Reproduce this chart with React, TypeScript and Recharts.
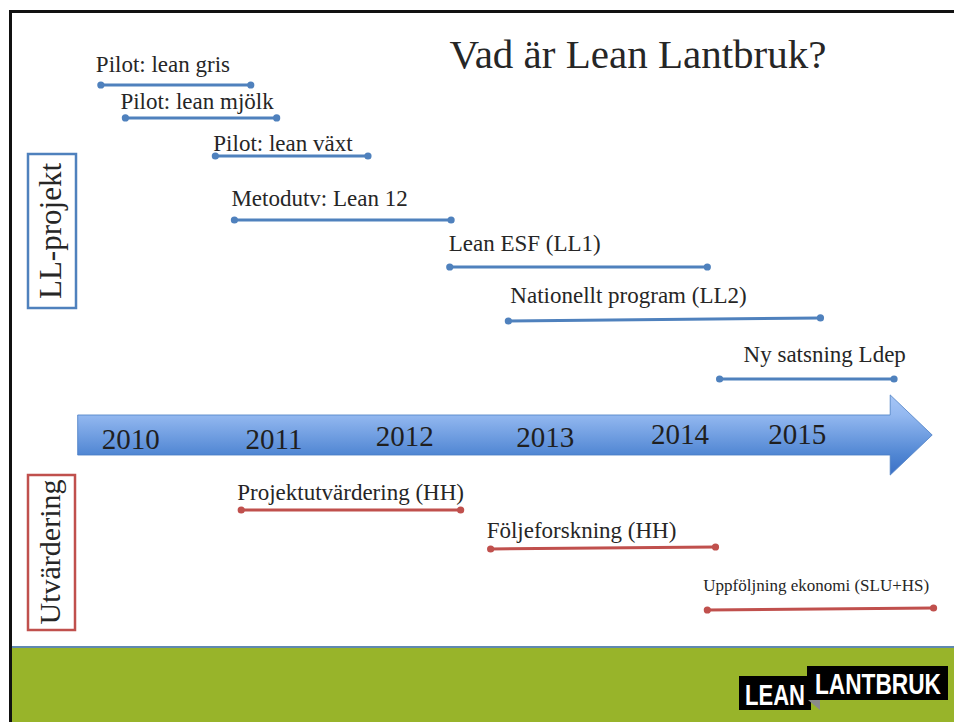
import React from 'react';
import { ComposedChart, Line, Scatter, XAxis, YAxis, ReferenceArea } from 'recharts';

// time runs in years along x, lanes are on a 0-100 scale from the top of the slide
const projectNames = ['Pilot: lean gris', 'Pilot: lean mjölk', 'Pilot: lean växt', 'Metodutv: Lean 12', 'Lean ESF (LL1)', 'Nationellt program (LL2)', 'Ny satsning Ldep'];
const projectStart = [2009.94, 2010.12, 2010.78, 2010.92, 2012.5, 2012.93, 2014.48];
const projectEnd = [2011.04, 2011.23, 2011.9, 2012.51, 2014.39, 2015.22, 2015.76];
const projectLaneStart = [11.77, 16.34, 21.61, 30.47, 36.98, 44.46, 52.49];
const projectLaneEnd = [11.77, 16.34, 21.61, 30.47, 36.98, 44.04, 52.49];

const evalNames = ['Projektutvärdering (HH)', 'Följeforskning (HH)', 'Uppföljning ekonomi (SLU+HS)'];
const evalStart = [2010.97, 2012.8, 2014.39];
const evalEnd = [2012.58, 2014.45, 2016.05];
const evalLaneStart = [70.64, 76.04, 84.49];
const evalLaneEnd = [70.64, 75.76, 84.21];

const years = ['2010', '2011', '2012', '2013', '2014', '2015'];
const yearAt = [2010.16, 2011.21, 2012.17, 2013.2, 2014.19, 2015.05];
const yearLane = [62.2, 62.2, 61.8, 61.9, 61.5, 61.5];

const arrowFrom = 2009.77;
const arrowTo = 2016.04;
const arrowTop = 54.7;
const arrowBottom = 65.8;

// label placement relative to the first dot, in px
const projectLabelOffset = [[-5, -13], [-5, -9], [-2, -5], [-3, -14], [-1, -16], [2, -18], [24, -17]];
const evalLabelOffset = [[-4, -10], [-4, -11], [-4, -19]];
const evalLabelSize = [23, 23, 17];

const BLUE = '#4f81bd';
const RED = '#c0504d';
const INK = '#262626';
const SERIF = "'Liberation Serif', 'Times New Roman', serif";
const LOGO_FONT = "'Liberation Sans Narrow', 'Liberation Sans', sans-serif";

const W = 954;
const H = 722;

type Seg = { name: string; color: string; data: { x: number; y: number }[]; off: number[]; size: number };

const segments: Seg[] = [
  ...projectNames.map((name, i) => ({
    name,
    color: BLUE,
    data: [{ x: projectStart[i], y: projectLaneStart[i] }, { x: projectEnd[i], y: projectLaneEnd[i] }],
    off: projectLabelOffset[i],
    size: 23,
  })),
  ...evalNames.map((name, i) => ({
    name,
    color: RED,
    data: [{ x: evalStart[i], y: evalLaneStart[i] }, { x: evalEnd[i], y: evalLaneEnd[i] }],
    off: evalLabelOffset[i],
    size: evalLabelSize[i],
  })),
];

const yearData = years.map((label, i) => ({ x: yearAt[i], y: yearLane[i], label }));

const makeDot = (seg: Seg) => (props: any) => {
  const { cx, cy, index } = props;
  return (
    <g key={`${seg.name}-${index}`}>
      <circle cx={cx} cy={cy} r={3.6} fill={seg.color} />
      {index === 0 && (
        <text x={cx + seg.off[0]} y={cy + seg.off[1]} fontSize={seg.size} fontFamily={SERIF} fill={INK}>
          {seg.name}
        </text>
      )}
    </g>
  );
};

const ArrowShape = (props: any) => {
  const { x, y, width, height } = props;
  const head = 42;
  const b1 = y + height * 0.25;
  const b2 = y + height * 0.75;
  const hx = x + width - head;
  const pts = [
    [x, b1], [hx, b1], [hx, y], [x + width, y + height / 2], [hx, y + height], [hx, b2], [x, b2],
  ].map(p => p.join(',')).join(' ');
  return <polygon points={pts} fill="url(#arrowGrad)" stroke="#4a7dc4" strokeWidth={0.8} />;
};

const YearLabel = (props: any) => {
  const { cx, cy, payload } = props;
  return (
    <text x={cx} y={cy} textAnchor="middle" fontSize={29} fontFamily={SERIF} fill="#1f1f1f">
      {payload.label}
    </text>
  );
};

const Slide = () => (
  <svg width={W} height={H} style={{ position: 'absolute', left: 0, top: 0 }}>
    <rect x={12} y={646} width={W - 12} height={H - 646} fill="#98b42a" />
    <line x1={12} y1={647} x2={W} y2={647} stroke="#5f88b0" strokeWidth={2} />
    <line x1={9} y1={11.5} x2={W} y2={11.5} stroke="#111" strokeWidth={3} />
    <line x1={10.5} y1={10} x2={10.5} y2={H} stroke="#111" strokeWidth={3} />
    <text x={638} y={68} textAnchor="middle" fontSize={41} fontFamily={SERIF} fill={INK}>
      Vad är Lean Lantbruk?
    </text>
    <rect x={28} y={154} width={48} height={154} fill="none" stroke={BLUE} strokeWidth={2.5} />
    <text x={61} y={231} textAnchor="middle" fontSize={31} fontFamily={SERIF} fill={INK} transform="rotate(-90 61 231)">
      LL-projekt
    </text>
    <rect x={28} y={475} width={47} height={155} fill="none" stroke={RED} strokeWidth={2.5} />
    <text x={60} y={552} textAnchor="middle" fontSize={30} fontFamily={SERIF} fill={INK} transform="rotate(-90 60 552)">
      Utvärdering
    </text>
    <rect x={739} y={676} width={72} height={34} fill="#000" />
    <polygon points="808,700 820,700 820,710" fill="#8a8a8a" />
    <rect x={807} y={666} width={141} height={34} fill="#000" />
    <text x={745} y={705} fontSize={30} fontWeight="bold" fontFamily={LOGO_FONT} fill="#fff" textLength={60} lengthAdjust="spacingAndGlyphs">
      LEAN
    </text>
    <text x={815} y={694} fontSize={30} fontWeight="bold" fontFamily={LOGO_FONT} fill="#fff" textLength={126} lengthAdjust="spacingAndGlyphs">
      LANTBRUK
    </text>
  </svg>
);

export default function App() {
  return (
    <div style={{ position: 'fixed', left: 0, top: 0, width: W, height: H, background: '#fff', overflow: 'hidden' }}>
      <Slide />
      <div style={{ position: 'absolute', left: 0, top: 0 }}>
        <ComposedChart width={W} height={H} margin={{ top: 0, right: 0, bottom: 0, left: 0 }}>
          <defs>
            <linearGradient id="arrowGrad" x1="0" y1="0" x2="0" y2="1">
              <stop offset="0" stopColor="#a7c6f6" />
              <stop offset="0.25" stopColor="#93b8f0" />
              <stop offset="0.75" stopColor="#5086d3" />
              <stop offset="1" stopColor="#3b70c5" />
            </linearGradient>
          </defs>
          <XAxis type="number" dataKey="x" domain={[2009.2, 2016.2]} hide allowDataOverflow />
          <YAxis type="number" dataKey="y" domain={[0, 100]} reversed hide allowDataOverflow />
          <ReferenceArea x1={arrowFrom} x2={arrowTo} y1={arrowTop} y2={arrowBottom} shape={(p: any) => <ArrowShape {...p} />} />
          <Scatter data={yearData} shape={(p: any) => <YearLabel {...p} />} isAnimationActive={false} legendType="none" />
          {segments.map(seg => (
            <Line
              key={seg.name}
              data={seg.data}
              dataKey="y"
              type="linear"
              stroke={seg.color}
              strokeWidth={3}
              dot={makeDot(seg)}
              activeDot={false}
              isAnimationActive={false}
              legendType="none"
            />
          ))}
        </ComposedChart>
      </div>
    </div>
  );
}
